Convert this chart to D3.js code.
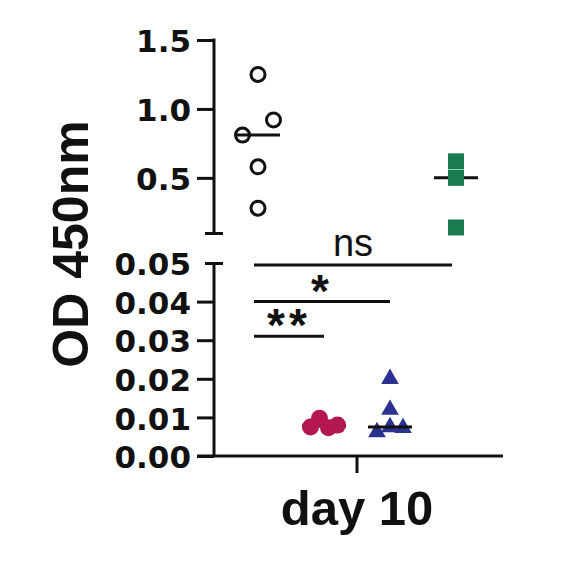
<!DOCTYPE html>
<html>
<head>
<meta charset="utf-8">
<script src="https://cdn.jsdelivr.net/npm/d3@7"></script>
<style>
    body { margin: 0; background: #fff; }
    svg { display: block; }
    .axis path, .axis line { stroke: #111; stroke-width: 3; }
    .axis text { font-family: "DejaVu Sans", sans-serif; font-weight: bold; font-size: 31px; fill: #111; }
</style>
</head>
<body>
<div id="chart"></div>
<script>
// groups along the x axis (all at day 10)
var groups = ['g1', 'g2', 'g3', 'g4'];

// values, OD 450nm
var g1Values = [1.25, 0.81, 0.92, 0.58, 0.28];
var g2Values = [0.0075, 0.0098, 0.0073, 0.0080];
var g3Values = [0.020, 0.012, 0.0062, 0.0075, 0.0073];
var g4Values = [0.62, 0.50, 0.14];

// axis ticks
var topTicks = [0.5, 1.0, 1.5];
var bottomTicks = [0, 0.01, 0.02, 0.03, 0.04, 0.05];
var topDomain = [0.1, 1.5];
var bottomDomain = [0, 0.05];

// comparisons: [from group, to group, level, label]
var compFrom = ['g1', 'g1', 'g1'];
var compTo = ['g4', 'g3', 'g2'];
var compLevel = [0.0495, 0.040, 0.031];
var compLabel = ['ns', '*', '**'];

var xLabel = 'day 10';
var yLabel = 'OD 450nm';

// styling per group
var groupStyle = {
    g1: { shape: 'openCircle', color: '#111', spread: 31, medianOnTop: true },
    g2: { shape: 'circle', color: '#b3174f', spread: 9, medianOnTop: false },
    g3: { shape: 'triangle', color: '#2b3190', spread: 13, medianOnTop: true },
    g4: { shape: 'square', color: '#1a7a50', spread: 16, medianOnTop: false }
};

var seriesValues = { g1: g1Values, g2: g2Values, g3: g3Values, g4: g4Values };

var width = 563, height = 575;
var axisX = 214;

var svg = d3.select('#chart').append('svg')
    .attr('width', width)
    .attr('height', height);

var x = d3.scalePoint().domain(groups).range([258, 456]);
var yTop = d3.scaleLinear().domain(topDomain).range([233, 40]);
var yBot = d3.scaleLinear().domain(bottomDomain).range([456, 263]);

// pick the right segment for a value
function yOf(v) {
    return v >= topDomain[0] ? yTop(v) : yBot(v);
}

// ---- axes
var topAxis = d3.axisLeft(yTop)
    .tickValues(topTicks.concat([0.1]))
    .tickSize(17)
    .tickPadding(6)
    .tickFormat(function(d) { return d === 0.1 ? '' : d3.format('.1f')(d); });

var gTop = svg.append('g')
    .attr('class', 'axis')
    .attr('transform', `translate(${axisX},0)`)
    .call(topAxis);
gTop.select('.domain').remove();
gTop.append('line').attr('x1', 0).attr('x2', 0).attr('y1', yTop(1.5) - 1.5).attr('y2', yTop(0.1));
// the break cap
gTop.selectAll('.tick').filter(function(d) { return d === 0.1; })
    .select('line').attr('x1', 9).attr('x2', -9);

var botAxis = d3.axisLeft(yBot)
    .tickValues(bottomTicks)
    .tickSize(17)
    .tickPadding(6)
    .tickFormat(d3.format('.2f'));

var gBot = svg.append('g')
    .attr('class', 'axis')
    .attr('transform', `translate(${axisX},0)`)
    .call(botAxis);
gBot.select('.domain').remove();
gBot.append('line').attr('x1', 0).attr('x2', 0).attr('y1', yBot(0.05)).attr('y2', yBot(0));
gBot.selectAll('.tick').filter(function(d) { return d === 0.05; })
    .select('line').attr('x1', 9).attr('x2', -9);
gBot.selectAll('.tick text').attr('dy', '0.38em');
gTop.selectAll('.tick text').attr('dy', '0.38em');

// x axis, one tick at the middle
var xMid = (x(groups[0]) + x(groups[groups.length - 1])) / 2;
svg.append('line')
    .attr('x1', axisX - 17).attr('x2', 503)
    .attr('y1', yBot(0)).attr('y2', yBot(0))
    .style('stroke', '#111').style('stroke-width', 3);
svg.append('line')
    .attr('x1', xMid).attr('x2', xMid)
    .attr('y1', yBot(0)).attr('y2', yBot(0) + 17)
    .style('stroke', '#111').style('stroke-width', 3);

svg.append('text')
    .attr('x', xMid)
    .attr('y', 525)
    .attr('text-anchor', 'middle')
    .style('font-family', '"Liberation Sans", Arial, sans-serif')
    .style('font-weight', 'bold')
    .style('font-size', '49px')
    .style('fill', '#111')
    .text(xLabel);

svg.append('text')
    .attr('transform', 'translate(88,244) rotate(-90)')
    .attr('text-anchor', 'middle')
    .style('font-family', '"Liberation Sans", Arial, sans-serif')
    .style('font-weight', 'bold')
    .style('font-size', '50px')
    .style('fill', '#111')
    .text(yLabel);

// ---- points, spread sideways where they collide
function placePoints(g) {
    var vals = seriesValues[g];
    var st = groupStyle[g];
    var pts = vals.map(function(v, i) { return { v: v, i: i, y: yOf(v) }; });
    var sorted = pts.slice().sort(function(a, b) { return a.y - b.y; });
    var clusters = [], cur = [];
    sorted.forEach(function(p) {
        if (cur.length && p.y - cur[cur.length - 1].y > 16) { clusters.push(cur); cur = []; }
        cur.push(p);
    });
    if (cur.length) clusters.push(cur);
    clusters.forEach(function(c) {
        c.sort(function(a, b) { return a.i - b.i; });
        c.forEach(function(p, k) { p.x = x(g) + (k - (c.length - 1) / 2) * st.spread; });
    });
    return pts;
}

var medianLayer = svg.append('g');
var pointLayer = svg.append('g');
var topLayer = svg.append('g');

groups.forEach(function(g) {
    var st = groupStyle[g];
    var pts = placePoints(g);
    var med = d3.median(seriesValues[g]);

    (st.medianOnTop ? topLayer : medianLayer).append('line')
        .attr('x1', x(g) - 22).attr('x2', x(g) + 22)
        .attr('y1', yOf(med)).attr('y2', yOf(med))
        .style('stroke', '#111').style('stroke-width', 3);

    var sel = pointLayer.selectAll('.p' + g)
        .data(pts)
        .enter();

    if (st.shape === 'openCircle') {
        sel.append('circle')
            .attr('cx', function(d) { return d.x; })
            .attr('cy', function(d) { return d.y; })
            .attr('r', 7)
            .style('fill', 'none')
            .style('stroke', st.color)
            .style('stroke-width', 3);
    } else if (st.shape === 'circle') {
        sel.append('circle')
            .attr('cx', function(d) { return d.x; })
            .attr('cy', function(d) { return d.y; })
            .attr('r', 8.5)
            .style('fill', st.color);
    } else {
        var sym = d3.symbol()
            .type(st.shape === 'triangle' ? d3.symbolTriangle : d3.symbolSquare)
            .size(st.shape === 'triangle' ? 135 : 256);
        sel.append('path')
            .attr('d', sym)
            .attr('transform', function(d) { return `translate(${d.x},${d.y})`; })
            .style('fill', st.color);
    }
});

// ---- significance bars
compLevel.forEach(function(lv, i) {
    var x1 = x(compFrom[i]) - 4, x2 = x(compTo[i]) - 4;
    if (compTo[i] === 'g2' || compTo[i] === 'g3') x2 = x(compTo[i]);
    var yy = yBot(lv);
    svg.append('line')
        .attr('x1', x1).attr('x2', x2)
        .attr('y1', yy).attr('y2', yy)
        .style('stroke', '#111').style('stroke-width', 3);
    var isStar = compLabel[i] !== 'ns';
    svg.append('text')
        .attr('x', (x1 + x2) / 2)
        .attr('y', isStar ? yy + 5 : yy - 9)
        .attr('text-anchor', 'middle')
        .style('font-family', '"Liberation Sans", Arial, sans-serif')
        .style('font-weight', isStar ? 'bold' : 'normal')
        .style('font-size', isStar ? '46px' : '38px')
        .style('letter-spacing', isStar ? '4px' : '0px')
        .style('fill', '#111')
        .text(compLabel[i]);
});
</script>
</body>
</html>
